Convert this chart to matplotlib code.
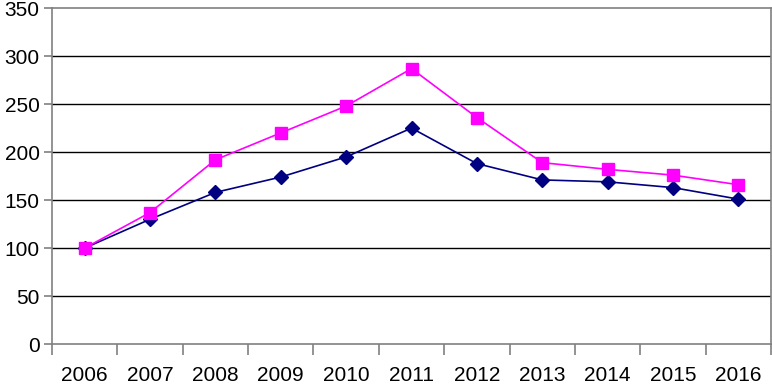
import matplotlib
matplotlib.use("Agg")
import matplotlib.pyplot as plt

years = ["2006", "2007", "2008", "2009", "2010", "2011", "2012", "2013", "2014", "2015", "2016"]
series_pink = [100, 137, 192, 220, 248, 287, 236, 189, 182, 176, 166]
series_navy = [100, 130, 158, 174, 195, 225, 188, 171, 169, 163, 151]
yticks = [0, 50, 100, 150, 200, 250, 300, 350]

plt.rcParams['font.family'] = ['Liberation Sans', 'DejaVu Sans']
fig = plt.figure(figsize=(7.72, 3.88), dpi=100)
ax = fig.add_axes([0.0674, 0.1134, 0.9313, 0.8656])

x = list(range(len(years)))
ax.plot(x, series_navy, color="#000080", marker="D", markersize=7, linewidth=1.2, zorder=3)
ax.plot(x, series_pink, color="#FF00FF", marker="s", markersize=8.5, linewidth=1.2, zorder=4)

ax.set_xlim(-0.5, len(years) - 0.5)
ax.set_ylim(0, 350)
ax.set_yticks(yticks)
for v in yticks[1:-1]:
    ax.axhline(v, color="black", linewidth=1.0, zorder=1)

ax.set_xticks([i - 0.5 for i in range(len(years) + 1)], minor=False)
ax.set_xticklabels([""] * (len(years) + 1))
ax.set_xticks(x, minor=True)
ax.set_xticklabels(years, minor=True, fontsize=15)
ax.tick_params(axis="x", which="minor", length=0, pad=16)
ax.tick_params(axis="x", which="major", length=8, width=1.2, color="#808080", direction="out")
ax.tick_params(axis="y", length=6, width=1.2, color="#808080", labelsize=15, pad=3)

for side in ["left", "bottom", "right", "top"]:
    ax.spines[side].set_color("#808080")
    ax.spines[side].set_linewidth(1.2)

fig.savefig("out.png", dpi=100)
